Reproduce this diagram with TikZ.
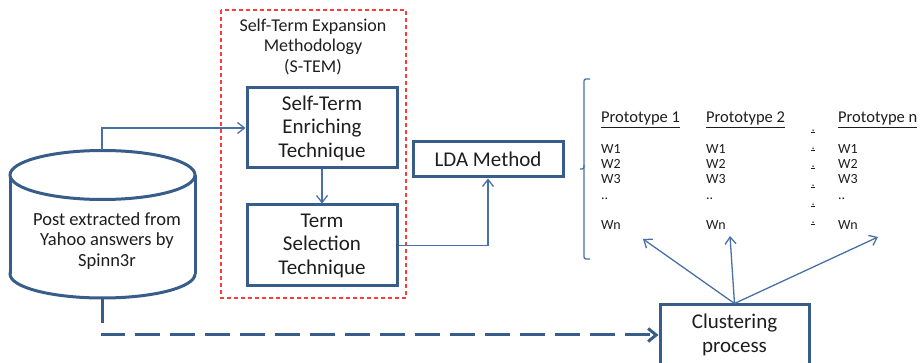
\documentclass[tikz,border=0pt]{standalone}
\usepackage{fontspec}
\setmainfont{Carlito}
\usetikzlibrary{arrows.meta}
\definecolor{boxblue}{RGB}{56,93,138}
\definecolor{linkblue}{RGB}{72,112,165}
\definecolor{dashred}{RGB}{250,60,60}
\definecolor{ink}{RGB}{30,30,30}
\begin{document}
\begin{tikzpicture}[x=1pt,y=-1pt,
  font=\fontsize{21}{24}\selectfont, text=ink,
  procbox/.style={draw=boxblue, line width=3pt, fill=white, align=center,
    inner sep=0pt, minimum width=150pt},
  flow/.style={draw=linkblue, line width=1.3pt,
    -{Straight Barb[length=7pt,width=11pt,line width=1.3pt]}},
  thickflow/.style={draw=boxblue, line width=3pt, dash pattern=on 25pt off 10pt,
    -{Straight Barb[length=8pt,width=13pt,line width=3pt]}},
  hdr/.style={anchor=base west, inner sep=0pt, font=\fontsize{16.5}{18}\selectfont},
  wrd/.style={anchor=base west, inner sep=0pt, font=\fontsize{14}{16}\selectfont}
]
\useasboundingbox (0,0) rectangle (922,363);

% S-TEM frame and its title
\draw[dashred, line width=1.3pt, dash pattern=on 4pt off 3pt] (221,10) rectangle (406,298);
\node[align=center, font=\fontsize{18}{20.5}\selectfont] (stem) at (313,47)
  {Self-Term Expansion\\Methodology\\(S-TEM)};

% data store cylinder
\draw[boxblue, line width=3pt, fill=white] (102.5,274) ellipse (92.5pt and 24pt);
\fill[white] (10,175) rectangle (195,274);
\draw[boxblue, line width=3pt] (10,175) -- (10,274) (195,175) -- (195,274);
\draw[boxblue, line width=3pt, fill=white] (102.5,175) ellipse (92.5pt and 24.5pt);
\node[align=center, font=\fontsize{18.5}{20.5}\selectfont] (cyl) at (107,241)
  {Post extracted from\\Yahoo answers by\\Spinn3r};
\coordinate (cyltop) at (102,150);
\coordinate (cylbot) at (102,298);

% processing boxes
\node[procbox, minimum height=80pt, font=\fontsize{21}{23.5}\selectfont] (enrich) at (322,128)
  {Self-Term\\Enriching\\Technique};
\node[procbox, minimum height=81pt, font=\fontsize{21}{23.5}\selectfont] (select) at (322,245.5)
  {Term\\Selection\\Technique};
\node[procbox, minimum height=35pt] (lda) at (488,159.5) {LDA Method};
\node[procbox, minimum width=149pt, minimum height=60pt, font=\fontsize{21}{24}\selectfont]
  (clust) at (734.5,335) {Clustering\\process};

% connectors
\draw[flow] (cyltop) |- (enrich.west);
\draw[flow] (enrich.south) -- (select.north);
\draw[flow] (select.east) -| (lda.south);
\draw[thickflow] (cylbot) |- (clust.west);

% prototype bracket
\draw[linkblue, line width=1.3pt, rounded corners=2pt]
  (590,79) -| (584,169) -- (580,169);
\draw[linkblue, line width=1.3pt, rounded corners=2pt]
  (584,165) |- (590,259);

% prototype columns
\foreach \cx/\nm/\lab in {601/p1/Prototype 1, 706/p2/Prototype 2, 838/pn/Prototype n}{
  \node[hdr] (\nm h) at (\cx,123) {\underline{\lab}};
  \node[wrd] (\nm a) at (\cx,154) {W1};
  \node[wrd] (\nm b) at (\cx,169) {W2};
  \node[wrd] (\nm c) at (\cx,184) {W3};
  \node[wrd] (\nm d) at (\cx,200) {..};
  \node[wrd] (\nm e) at (\cx,230) {Wn};
}
% column separator marks
\foreach \sy in {132,150,168,187,206,224}{
  \fill[ink] (813,\sy-1.8) circle (0.8pt);
  \draw[ink, line width=0.7pt] (811,\sy+0.8) -- (815,\sy+0.8);
}

% clustering output arrows
\coordinate (t1) at (643,239);
\coordinate (t2) at (730,236);
\coordinate (tn) at (878,237);
\draw[flow] (clust.north) -- (t1);
\draw[flow] (clust.north) -- (t2);
\draw[flow] (clust.north) -- (tn);
\end{tikzpicture}
\end{document}
